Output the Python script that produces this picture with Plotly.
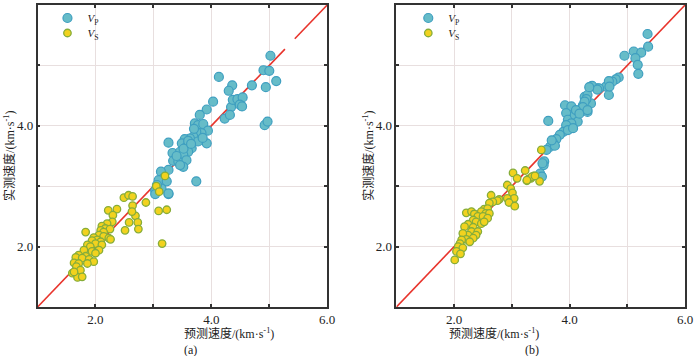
import plotly.graph_objects as go

# ---------------- data ----------------
# (a) predicted vs measured
a_vp_x = [4.03,3.92,3.80,3.715,3.77,3.86,3.94,3.83,3.74,3.69,3.63,3.54,3.92,3.77,3.26,3.49,3.57,3.66,3.60,3.33,
          3.46,3.515,3.34,3.43,3.57,3.515,3.46,3.26,3.13,3.17,3.74,3.09,3.23,3.14,3.06,3.26,3.03,4.40,4.52,4.34,
          4.23,4.32,5.02,4.90,5.00,5.12,4.94,4.13,4.36,4.30,4.70,4.37,4.45,4.54,4.49,4.53,4.92,4.97,3.03,3.26,
          3.60,3.70,3.52,3.40,3.85,3.65]
a_vp_y = [4.40,4.27,4.18,4.04,4.01,4.03,3.92,3.88,3.90,3.82,3.79,3.78,3.71,3.74,3.72,3.71,3.65,3.63,3.57,3.55,
          3.57,3.52,3.42,3.41,3.43,3.32,3.35,3.27,3.24,3.13,3.08,3.10,3.08,2.96,3.02,2.87,2.93,4.40,4.33,4.31,
          4.12,4.18,5.16,4.92,4.91,4.74,4.64,4.81,4.67,4.58,4.67,4.43,4.44,4.47,4.35,4.32,4.01,4.07,2.87,2.88,
          3.75,3.95,3.62,3.50,3.80,3.70]
a_vs_x = [3.20,3.05,3.10,2.49,2.57,2.64,2.87,2.64,2.37,2.22,2.30,2.69,2.63,2.73,2.58,2.29,2.20,2.11,2.17,2.09,
          2.25,2.14,2.51,2.74,1.83,3.09,3.23,3.15,2.06,2.14,1.97,2.23,2.03,1.94,2.09,2.26,1.86,2.00,1.91,2.11,
          2.06,1.80,1.94,2.00,1.71,1.83,1.66,1.77,1.89,1.97,1.63,1.71,1.86,1.67,1.74,1.60,1.69,1.77,1.63]
a_vs_y = [3.17,3.00,2.91,2.81,2.85,2.83,2.73,2.68,2.62,2.60,2.52,2.51,2.58,2.40,2.40,2.41,2.38,2.34,2.30,2.27,
          2.29,2.24,2.27,2.29,2.24,2.59,2.61,2.05,2.19,2.17,2.15,2.14,2.11,2.10,2.08,2.12,2.03,2.05,2.00,2.03,
          1.94,1.94,1.92,1.89,1.86,1.84,1.82,1.81,1.79,1.75,1.73,1.72,1.72,1.67,1.61,1.56,1.49,1.50,1.58]

# (b) predicted vs measured
b_vp_x = [4.48,4.37,4.63,4.68,4.26,4.29,4.37,4.23,3.92,4.03,4.11,4.17,4.31,3.94,3.97,4.09,4.14,4.03,3.63,3.94,
          3.89,3.97,4.06,3.83,3.77,3.72,3.66,3.60,3.745,3.56,3.55,3.49,3.52,3.69,5.35,5.36,5.11,5.24,5.14,4.95,
          5.18,5.19,4.85,4.80,4.74,4.68,4.69,4.39,4.51,4.31,4.29,4.26,4.23,4.11,4.17,4.31,4.48,4.34,3.53]
b_vp_y = [4.62,4.65,4.65,4.51,4.48,4.40,4.37,4.34,4.34,4.32,4.23,4.25,4.23,4.21,4.10,4.18,4.07,4.04,4.08,4.01,
          3.90,3.93,3.96,3.85,3.78,3.71,3.65,3.60,3.67,3.41,3.35,3.21,3.16,3.76,5.52,5.31,5.23,5.21,5.12,5.16,
          5.01,4.86,4.80,4.77,4.73,4.74,4.65,4.66,4.62,4.51,4.44,4.40,4.31,4.26,4.20,4.26,4.60,4.64,3.38]
b_vs_x = [3.51,3.02,3.23,3.09,3.26,3.33,3.38,3.48,2.92,2.98,3.01,3.04,2.64,2.78,2.75,2.92,2.95,3.05,2.67,2.61,
          2.52,2.58,2.47,2.55,2.61,2.21,2.30,2.35,2.41,2.50,2.58,2.33,2.38,2.47,2.52,2.24,2.18,2.33,2.30,2.41,
          2.38,2.24,2.15,2.33,2.21,2.13,2.27,2.10,2.07,2.15,2.04,2.01,2.11,3.29,3.35,3.40,3.26]
b_vs_y = [3.60,3.22,3.26,3.13,3.09,3.13,3.17,3.08,3.02,2.96,2.89,2.80,2.85,2.78,2.76,2.80,2.73,2.67,2.74,2.72,
          2.62,2.63,2.58,2.55,2.55,2.56,2.58,2.54,2.50,2.50,2.47,2.44,2.41,2.38,2.41,2.37,2.33,2.32,2.25,2.25,
          2.19,2.19,2.22,2.14,2.12,2.11,2.08,2.05,2.00,1.98,1.92,1.78,1.88,3.12,3.16,3.17,3.10]

diag_a = [1.0, 5.27, None, 5.44, 6.0]
diag_b = [1.0, 6.0]

tick_vals = [2, 4, 6]
tick_text = ["2.0", "4.0", "6.0"]

# ---------------- style ----------------
SERIF = "Liberation Serif, Noto Sans CJK SC, serif"
VP_FILL, VP_EDGE = "#66bcc8", "#3f9fc0"
VS_FILL, VS_EDGE = "#f2d21e", "#86ad3a"
RED = "#e8342c"
GRID = "#e8dfdf"

fig = go.Figure()

def add_panel(vpx, vpy, vsx, vsy, dx, xa, ya, leg_p, leg_s):
    fig.add_trace(go.Scatter(x=dx, y=dx, mode="lines", line=dict(color=RED, width=1.6),
                             xaxis=xa, yaxis=ya, showlegend=False, hoverinfo="skip"))
    fig.add_trace(go.Scatter(x=vpx, y=vpy, mode="markers", name="<i>V</i><sub>P</sub>",
                             marker=dict(size=9, color=VP_FILL, line=dict(color=VP_EDGE, width=1.2)),
                             xaxis=xa, yaxis=ya, legend=leg_p))
    fig.add_trace(go.Scatter(x=vsx, y=vsy, mode="markers", name="<i>V</i><sub>S</sub>",
                             marker=dict(size=7.5, color=VS_FILL, line=dict(color=VS_EDGE, width=1.3)),
                             xaxis=xa, yaxis=ya, legend=leg_s))

add_panel(a_vp_x, a_vp_y, a_vs_x, a_vs_y, diag_a, "x", "y", "legend", "legend2")
add_panel(b_vp_x, b_vp_y, b_vs_x, b_vs_y, diag_b, "x2", "y2", "legend3", "legend4")

axis_common = dict(range=[1, 6], tickvals=tick_vals, ticktext=tick_text, ticks="inside", ticklen=3,
                   tickwidth=1.5, tickcolor="#333", showline=True, linecolor="#333", linewidth=1.6,
                   mirror="ticks", showgrid=True, gridcolor=GRID, gridwidth=1.2, zeroline=False,
                   minor=dict(tick0=1, dtick=1, ticks="inside", ticklen=3, tickwidth=1.5, tickcolor="#333",
                              showgrid=True, gridcolor=GRID, gridwidth=1.2),
                   tickfont=dict(family=SERIF, size=13, color="#222"))

leg_common = dict(xanchor="left", yanchor="middle", bgcolor="rgba(0,0,0,0)",
                  font=dict(family=SERIF, size=11, color="#222"), itemwidth=30, tracegroupgap=0)
y_p = 1 - (18 - 5) / 302
y_s = 1 - (33 - 5) / 302

fig.update_layout(
    width=700, height=356,
    margin=dict(l=0, r=0, t=5, b=49),
    paper_bgcolor="white", plot_bgcolor="white",
    xaxis=dict(domain=[38/700, 331/700], anchor="y", **axis_common),
    yaxis=dict(domain=[0, 1], anchor="x", **axis_common),
    xaxis2=dict(domain=[401/700, 693/700], anchor="y2", **axis_common),
    yaxis2=dict(domain=[0, 1], anchor="x2", **axis_common),
    legend=dict(x=48/700, y=y_p, **leg_common),
    legend2=dict(x=48/700, y=y_s, **leg_common),
    legend3=dict(x=413/700, y=y_p, **leg_common),
    legend4=dict(x=413/700, y=y_s, **leg_common),
    showlegend=True,
)

title_font = dict(family=SERIF, size=12, color="#222")
x_title = "预测速度/(km·s<sup>-1</sup>)"
y_title = "实测速度/(km·s<sup>-1</sup>)"
for cx, ylab_x, tag in [(184.5, 9, "(a)"), (547, 372, "(b)")]:
    fig.add_annotation(x=cx/700, y=-27/302, xref="paper", yref="paper", text=x_title,
                       showarrow=False, font=title_font, yanchor="middle")
    fig.add_annotation(x=cx/700, y=-43.5/302, xref="paper", yref="paper", text=tag,
                       showarrow=False, font=title_font, yanchor="middle")
    fig.add_annotation(x=ylab_x/700, y=0.5, xref="paper", yref="paper", text=y_title, textangle=-90,
                       showarrow=False, font=title_font, xanchor="center")

fig.write_html("out.html", config={"displayModeBar": False},
               post_script="document.body.style.margin='0px';")
